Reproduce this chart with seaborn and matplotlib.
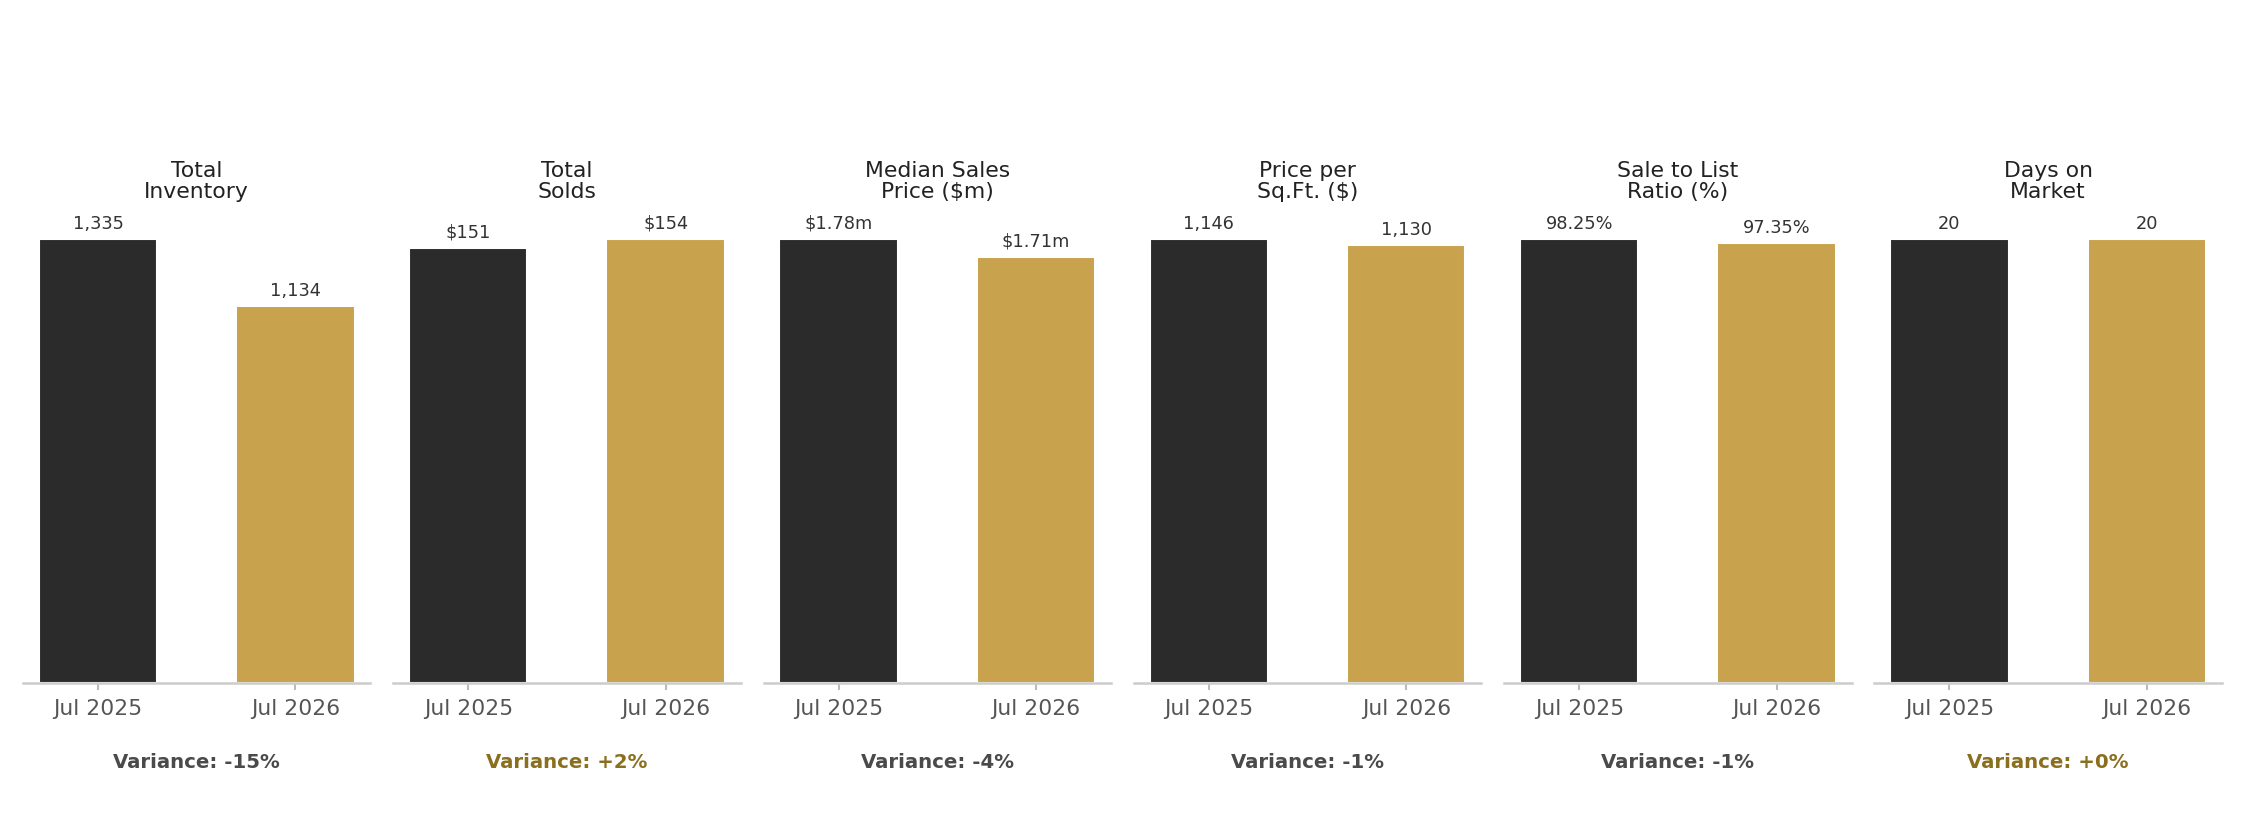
import matplotlib
matplotlib.use("Agg")
import matplotlib.pyplot as plt
import seaborn as sns
import pandas as pd

metrics = ["Total\nInventory", "Total\nSolds", "Median Sales\nPrice ($m)",
           "Price per\nSq.Ft. ($)", "Sale to List\nRatio (%)", "Days on\nMarket"]
periods = ["Jul 2025", "Jul 2026"]
values_2025 = [1335, 151, 1.78, 1146, 98.25, 20]
values_2026 = [1134, 154, 1.71, 1130, 97.35, 20]
labels_2025 = ["1,335", "$151", "$1.78m", "1,146", "98.25%", "20"]
labels_2026 = ["1,134", "$154", "$1.71m", "1,130", "97.35%", "20"]

DARK = "#2b2b2b"
GOLD = "#c8a24c"
POS = "#8a6f1f"
NEG = "#4a4a4a"

sns.set_theme(style="white")
plt.rcParams['font.family'] = ['DejaVu Sans']

fig, axes = plt.subplots(1, 6, figsize=(15, 5.5), dpi=150)
fig.subplots_adjust(left=0.0102, right=0.9875, bottom=0.172, top=0.745, wspace=0.066)

for i, ax in enumerate(axes):
    df = pd.DataFrame({"period": periods, "value": [values_2025[i], values_2026[i]]})
    sns.barplot(data=df, x="period", y="value", hue="period",
                palette=[DARK, GOLD], width=0.6, legend=False, ax=ax,
                saturation=1)
    vmax = max(values_2025[i], values_2026[i])
    ax.set_ylim(0, vmax * 1.065)
    ax.set_xlim(-0.38, 1.38)
    for j, (v, lab) in enumerate(zip([values_2025[i], values_2026[i]],
                                     [labels_2025[i], labels_2026[i]])):
        ax.annotate(lab, (j, v), xytext=(0, 3), textcoords="offset points",
                    ha="center", va="bottom", fontsize=8.5, color="#333333")
    ax.set_title(metrics[i], fontsize=10.5, color="#222222", pad=6, linespacing=1.05)
    ax.set_xlabel("")
    ax.set_ylabel("")
    ax.set_yticks([])
    for s in ["top", "left", "right"]:
        ax.spines[s].set_visible(False)
    ax.spines["bottom"].set_color("#cccccc")
    ax.spines["bottom"].set_linewidth(1.2)
    ax.tick_params(axis="x", bottom=True, length=3.5, width=1, color="#bbbbbb",
                   labelsize=10.5, labelcolor="#555555", pad=4)
    var = (values_2026[i] - values_2025[i]) / values_2025[i] * 100
    ax.text(0.5, -0.167, f"Variance: {var:+.0f}%", transform=ax.transAxes,
            ha="center", va="center", fontsize=9.5, fontweight="bold",
            color=POS if round(var) >= 0 else NEG)

fig.savefig("out.png", dpi=150, facecolor="white")
